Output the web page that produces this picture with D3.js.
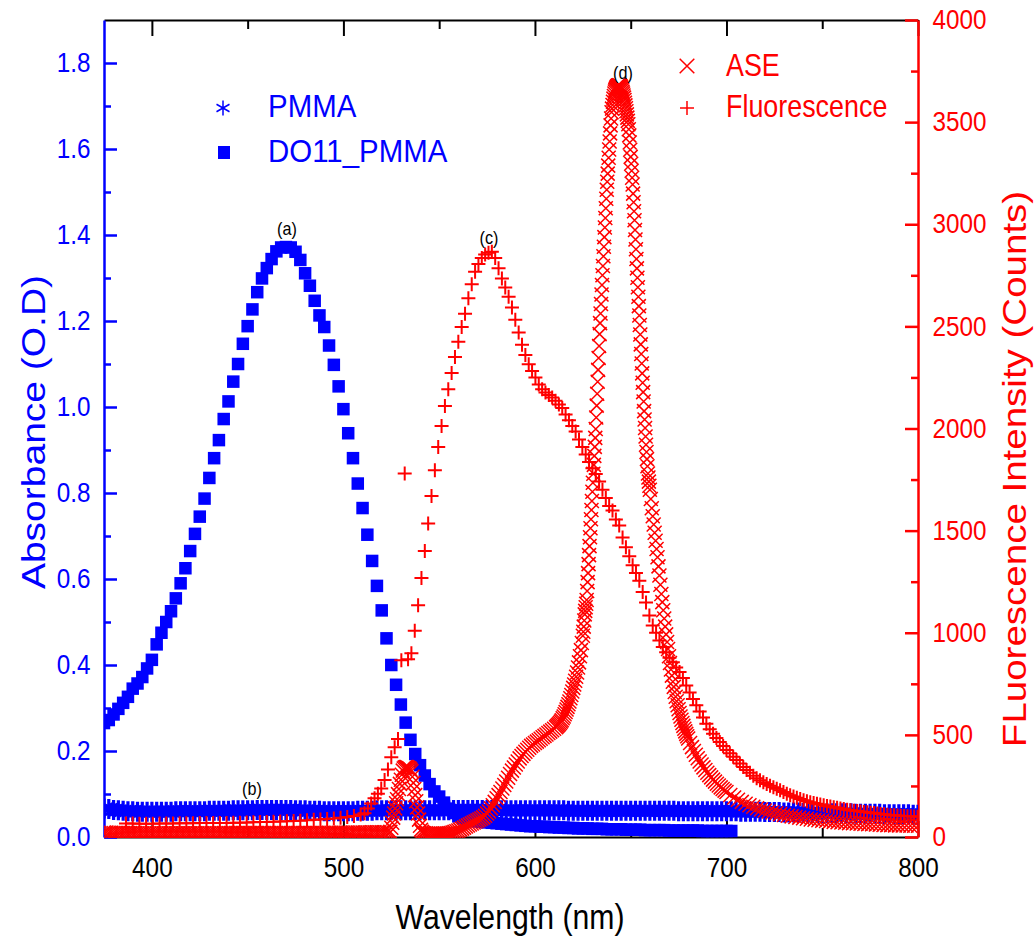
<!DOCTYPE html>
<html>
<head>
<meta charset="utf-8">
<script src="https://cdn.jsdelivr.net/npm/d3@7"></script>
<style>
  html, body { margin: 0; padding: 0; background: #fff; }
  svg text { font-family: "Liberation Sans", Arial, Helvetica, sans-serif; }
</style>
</head>
<body>
<div id="chart"></div>
<script>
// values (wavelength grid = start + i * step)

// DO11_PMMA absorbance (O.D), squares
const do11Start = 375, do11Step = 2.5;
const do11Abs = [
  0.265,0.272,0.285,0.298,0.312,0.326,0.345,0.357,0.372,0.392,
  0.412,0.448,0.475,0.500,0.525,0.555,0.590,0.625,0.665,0.705,
  0.745,0.787,0.835,0.881,0.923,0.972,1.013,1.059,1.100,1.147,
  1.188,1.227,1.267,1.299,1.323,1.344,1.362,1.371,1.372,1.371,
  1.361,1.342,1.311,1.282,1.247,1.213,1.186,1.143,1.098,1.048,
  0.995,0.939,0.881,0.822,0.765,0.703,0.642,0.584,0.527,0.462,
  0.400,0.354,0.308,0.266,0.226,0.193,0.167,0.143,0.123,0.106,
  0.094,0.080,0.066,0.056,0.048,0.043,0.040,0.038,0.036,0.035,
  0.034,0.033,0.032,0.031,0.030,0.029,0.028,0.027,0.026,0.025,
  0.025,0.024,0.024,0.023,0.023,0.022,0.022,0.021,0.021,0.020,
  0.020,0.020,0.019,0.019,0.019,0.018,0.018,0.018,0.018,0.017,
  0.017,0.017,0.017,0.016,0.016,0.016,0.016,0.016,0.015,0.015,
  0.015,0.015,0.015,0.015,0.015,0.014,0.014,0.014,0.014,0.014,
  0.014,0.014
];

// PMMA absorbance (O.D), asterisks
const pmmaStart = 375, pmmaStep = 2.5;
const pmmaAbs = [
  0.066,0.065,0.063,0.062,0.061,0.060,0.060,
  0.059,0.059,0.059,0.059,0.059,0.059,0.059,0.059,0.060,0.060,0.060,0.060,
  0.060,0.060,0.060,0.061,0.061,0.061,0.061,0.061,0.062,0.062,0.062,0.062,
  0.062,0.063,0.063,0.063,0.063,0.063,0.063,0.063,0.063,0.062,
  0.062,0.062,0.061,0.061,0.061,0.060,0.060,0.060,0.060,0.060,
  0.060,0.060,0.061,0.061,0.061,0.061,0.062,0.062,0.062,0.062,
  0.062,0.062,0.062,0.062,0.062,0.062,0.062,0.062,0.062,0.062,
  0.062,0.062,0.063,0.063,0.063,0.063,0.063,0.063,0.063,0.063,
  0.063,0.063,0.062,0.062,0.062,0.062,0.062,0.062,0.062,0.062,
  0.062,0.062,0.062,0.062,0.062,0.062,0.061,0.061,0.061,0.061,
  0.061,0.061,0.061,0.061,0.061,0.061,0.061,0.061,0.061,0.061,
  0.061,0.061,0.061,0.061,0.061,0.061,0.061,0.061,0.061,0.060,
  0.060,0.060,0.060,0.060,0.060,0.060,0.060,0.060,0.060,0.060,
  0.060,0.060,0.059,0.059,0.059,0.059,0.059,0.058,0.058,0.058,
  0.058,0.057,0.057,0.057,0.057,0.056,0.056,0.056,0.056,0.056,
  0.055,0.055,0.055,0.055,0.055,0.055,0.054,0.054,0.054,0.054,
  0.054,0.054,0.053,0.053,0.053,0.053,0.053,0.053,0.052,0.052
];

// ASE intensity (counts), x markers
const aseBaseStart = 375, aseBaseStep = 1.25;
const aseBase = [
  22,22,21,21,20,20,20,20,19,19,
  19,19,19,19,18,18,18,18,18,18,
  18,18,18,18,18,18,18,18,18,18,
  18,18,18,18,18,18,18,18,18,18,
  18,18,18,18,18,18,18,18,18,18,
  19,19,19,19,19,19,19,19,19,19,
  19,19,19,19,19,19,19,19,20,20,
  20,20,20,20,20,20,20,20,20,20,
  20,20,20,20,20,20,20,20,20,20,
  20,20,20,20,21,21,21,21,21,21,
  21,21,21,21,22,22,22,22,22,22,
  22,22,23,23,23,23,23,23,23
];
const aseSpikeStart = 524, aseSpikeStep = 0.5;
const aseSpike = [
  20,25,45,70,95,115,140,165,185,210,235,260,280,305,325,335,340,342,342,
  340,338,335,330,322,295,265,235,205,175,145,115,85,55,35,25,20,18
];
const aseRiseStart = 543, aseRiseStep = 1;
const aseRise = [
  18,17,17,17,16,16,16,16,16,16,17,17,18,
  20,22,25,28,32,36,41,46,51,56,61,66,71,76,81,86,91,96,104,115,
  125,140,155,172,190,205,220,237,255,272,290,308,325,340,355,370,385,397,407,417,427,437,446,453,460,
  467,474,481,488,495,502,509,516,523,530,537
];
const aseMidStart = 611.5, aseMidStep = 0.5;
const aseMid = [
  542,547,552,558,565,572,581,590,601,612,624,637,650,663,
  679,695,712,730,747,765,785,805,830,855,885,915,950,985
];
const asePeakStart = 625.25, asePeakStep = 0.25;
const asePeak = [
  1005,1030,1060,
  1090,1107,1125,1142, 1160,1204,1248,1292, 1336,1380,1424,1468, 1512,1556,1601,1645,
  1690,1734,1778,1822, 1866,1910,1954,1998, 2054,2112,2170,2229, 2287,2345,2404,2462,
  2516,2563,2610,2656, 2703,2750,2796,2843, 2890,2937,2984,3031, 3078,3125,3169,3208,
  3248,3287,3326,3366, 3405,3445,3484,3518, 3548,3566,3584,3600, 3615,3628,3640,3650,
  3658,3664,3669,3673, 3676,3678,3679,3680, 3680,3679,3677,3674, 3670,3664,3657,3649,
  3640,3630,3620,3608, 3595,3582,3568,3553, 3538,3522,3506,3490, 3465,3435,3400,3365,
  3330,3296,3262,3228, 3195,3150,3108,3064, 3020,2972,2925,2878, 2830,2784,2738,2692,
  2645,2599,2553,2507, 2460,2412,2365,2318, 2270,2224,2178,2132, 2085,2044,2002,1961,
  1920,1885,1850,1815, 1780,1760,1740,1720, 1700
];
const aseFallStart = 660.5, aseFallStep = 0.5;
const aseFall = [
  1655,1610,1570,1530,1490,1450,1410,1370,1325,1280,
  1235,1190,1150,1110,1070,1030,992,955,920,885,
  852,820,790,760,735,710,687,665,645,625,
  607,590,574,558,544,530,517,505,493,482
];
const aseTailStart = 681, aseTailStep = 1;
const aseTail = [
  460,440,421,403,386,370,355,341,328,315,
  303,292,281,271,261,252,243,235,227,220
];
const aseFarStart = 702, aseFarStep = 2;
const aseFar = [
  206,193,182,172,163,155,148,141,135,130,
  125,120,116,112,108,104,101,98,95,92,
  89,86,84,82,80,78,76,74,72,71,
  70,68,67,66,65,64,63,62,61,60,
  59,58,58,57,57,56,56,55,55,55
];

// Fluorescence intensity (counts), + markers
const fluorLowStart = 386.5, fluorLowStep = 3.5;
const fluorLow = [
  66,66,65,65,65,66,66,66,67,67,67,68,68,68,69,69,70,70,
  71,72,73,74,75,76,77,78,80,82,84,86,88,91,94,98,103,110
];
const fluorMainStart = 511, fluorMainStep = 1.75;
const fluorMain = [
  116,140,164,190,212,237,279,330,390,440,
  480,865,1780,870,900,1010,1135,1268,1400,1535,
  1670,1795,1910,2012,2110,2192,2272,2350,2425,2497,
  2562,2638,2706,2767,2805,2835,2852,2860,2865,2835,
  2785,2735,2690,2645,2592,2532,2470,2410,2360,2315,
  2282,2250,2215,2192,2176,2164,2152,2136,2118,2100,
  2068,2040,2012,1985,1946,1910,1873,1836,1805,1777,
  1740,1700,1660,1620,1598,1555,1525,1466,1418,1375,
  1330,1293,1255,1200,1148,1085,1035,1000,962,930,
  905,878,855,830,808,778,742,708,676,645,
  615,585,555,527,505,485,465,445,426,410,
  393,377,360,343,328,314,300,288,278,268,
  260,251,243,236,229,220,212,205,198,192,
  186,180,175,170,166,163,159,155,152,149,
  146,143,140,137,134,131,129,127,125,123,
  121,119,117,115,113,111,109,107,106,105,
  104,103,102,101,100,99
];

// axes
const xMajor = [400, 500, 600, 700, 800];
const xMinor = [450, 550, 650, 750];
const absMajor = [0, 0.2, 0.4, 0.6, 0.8, 1.0, 1.2, 1.4, 1.6, 1.8];
const absMinor = [0.1, 0.3, 0.5, 0.7, 0.9, 1.1, 1.3, 1.5, 1.7];
const cntMajor = [0, 500, 1000, 1500, 2000, 2500, 3000, 3500, 4000];
const cntMinor = [250, 750, 1250, 1750, 2250, 2750, 3250, 3750];

const BLUE = "#0000ff", RED = "#ff0000";
const W = 1036, H = 946;
const plotL = 104, plotR = 918, plotT = 20, plotB = 837;

const svg = d3.select("#chart").append("svg")
  .attr("width", W).attr("height", H)
  .style("display", "block");

const x = d3.scaleLinear().domain([375, 800]).range([plotL, plotR]);
const yAbs = d3.scaleLinear().domain([0, 1.9]).range([plotB, plotT]);
const yCnt = d3.scaleLinear().domain([0, 4000]).range([plotB, plotT]);

function seq(start, step, values) {
  return values.map((v, i) => ({ w: start + i * step, v: v }));
}

// text squeezed horizontally like the original export
function label(g, px, py, str, o) {
  const t = g.append("g")
    .attr("transform", `translate(${px},${py}) scale(${o.sx || 0.9},1)` + (o.rotate ? ` rotate(${o.rotate})` : ""))
    .append("text")
    .attr("font-size", o.size)
    .attr("fill", o.fill || "#000")
    .attr("text-anchor", o.anchor || "start")
    .text(str);
  if (o.baseline) t.attr("dominant-baseline", o.baseline);
  return t;
}

// ---- axes ----
function styleAxis(g, color, width) {
  g.select(".domain").attr("stroke", color).attr("stroke-width", width);
  g.selectAll(".tick line").attr("stroke", color).attr("stroke-width", width);
  g.selectAll(".tick text").attr("fill", color).attr("font-size", 27)
    .attr("font-family", '"Liberation Sans", Arial, sans-serif')
    .attr("transform", "scale(0.9,1)");
}

const gTop = svg.append("g").attr("transform", `translate(0,${plotT})`)
  .call(d3.axisTop(x).tickValues(xMajor).tickSize(-16).tickSizeOuter(0).tickFormat(""));
styleAxis(gTop, "#000", 2);
const gTopMinor = svg.append("g").attr("transform", `translate(0,${plotT})`)
  .call(d3.axisTop(x).tickValues(xMinor).tickSize(-9).tickFormat(""));
styleAxis(gTopMinor, "#000", 2);
gTopMinor.select(".domain").remove();

const gBottom = svg.append("g").attr("transform", `translate(0,${plotB})`)
  .call(d3.axisBottom(x).tickValues(xMajor).tickSize(-16).tickSizeOuter(0).tickPadding(21));
styleAxis(gBottom, "#000", 2);
const gBottomMinor = svg.append("g").attr("transform", `translate(0,${plotB})`)
  .call(d3.axisBottom(x).tickValues(xMinor).tickSize(-9).tickFormat(""));
styleAxis(gBottomMinor, "#000", 2);
gBottomMinor.select(".domain").remove();

const gLeft = svg.append("g").attr("transform", `translate(${plotL},0)`)
  .call(d3.axisLeft(yAbs).tickValues(absMajor).tickSize(-13).tickSizeOuter(0)
    .tickPadding(15).tickFormat(d3.format(".1f")));
styleAxis(gLeft, BLUE, 2.5);
const gLeftMinor = svg.append("g").attr("transform", `translate(${plotL},0)`)
  .call(d3.axisLeft(yAbs).tickValues(absMinor).tickSize(-7).tickFormat(""));
styleAxis(gLeftMinor, BLUE, 2.5);
gLeftMinor.select(".domain").remove();

const gRight = svg.append("g").attr("transform", `translate(${plotR},0)`)
  .call(d3.axisRight(yCnt).tickValues(cntMajor).tickSize(-13).tickSizeOuter(0)
    .tickPadding(16).tickFormat(d3.format("d")));
styleAxis(gRight, RED, 2.5);
const gRightMinor = svg.append("g").attr("transform", `translate(${plotR},0)`)
  .call(d3.axisRight(yCnt).tickValues(cntMinor).tickSize(-7).tickFormat(""));
styleAxis(gRightMinor, RED, 2.5);
gRightMinor.select(".domain").remove();

// axis titles
label(svg, 510, 929, "Wavelength (nm)", { size: 36, sx: 0.84, anchor: "middle" });
label(svg, 45, 432, "Absorbance (O.D)", { size: 39, sx: 0.84, anchor: "middle", fill: BLUE, rotate: -90 });
label(svg, 1026, 469, "FLuorescence Intensity (Counts)", { size: 38.5, sx: 0.84, anchor: "middle", fill: RED, rotate: -90 });

// ---- data ----
svg.append("clipPath").attr("id", "plotClip")
  .append("rect").attr("x", plotL).attr("y", plotT)
  .attr("width", plotR - plotL).attr("height", plotB - plotT + 1);
const plot = svg.append("g").attr("clip-path", "url(#plotClip)");

function asterisk(h) {
  const a = h * 0.866, b = h * 0.5;
  return `M0,${-h}V${h}M${-a},${-b}L${a},${b}M${a},${-b}L${-a},${b}`;
}
function cross(h) { return `M${-h},${-h}L${h},${h}M${h},${-h}L${-h},${h}`; }
function plus(h) { return `M${-h},0H${h}M0,${-h}V${h}`; }

const pmma = seq(pmmaStart, pmmaStep, pmmaAbs);
plot.append("g").selectAll("path").data(pmma).enter().append("path")
  .attr("d", asterisk(10))
  .attr("transform", d => `translate(${x(d.w)},${yAbs(d.v)})`)
  .attr("fill", "none").attr("stroke", BLUE).attr("stroke-width", 3.2);

const do11 = seq(do11Start, do11Step, do11Abs);
const sq = 12.5;
plot.append("g").selectAll("rect").data(do11).enter().append("rect")
  .attr("x", d => x(d.w) - sq / 2)
  .attr("y", d => yAbs(d.v) - sq / 2)
  .attr("width", sq).attr("height", sq)
  .attr("fill", BLUE);

const ase = [].concat(
  seq(aseBaseStart, aseBaseStep, aseBase),
  seq(aseSpikeStart, aseSpikeStep, aseSpike),
  seq(aseRiseStart, aseRiseStep, aseRise),
  seq(aseMidStart, aseMidStep, aseMid),
  seq(asePeakStart, asePeakStep, asePeak),
  seq(aseFallStart, aseFallStep, aseFall),
  seq(aseTailStart, aseTailStep, aseTail),
  seq(aseFarStart, aseFarStep, aseFar)
);
plot.append("g").selectAll("path").data(ase).enter().append("path")
  .attr("d", cross(7))
  .attr("transform", d => `translate(${x(d.w)},${yCnt(d.v)})`)
  .attr("fill", "none").attr("stroke", RED).attr("stroke-width", 1.5);

const fluor = [].concat(
  seq(fluorLowStart, fluorLowStep, fluorLow),
  seq(fluorMainStart, fluorMainStep, fluorMain)
);
plot.append("g").selectAll("path").data(fluor).enter().append("path")
  .attr("d", plus(7))
  .attr("transform", d => `translate(${x(d.w)},${yCnt(d.v)})`)
  .attr("fill", "none").attr("stroke", RED).attr("stroke-width", 2);

// peak annotations
label(svg, 287, 229, "(a)", { size: 18, anchor: "middle", baseline: "central" });
label(svg, 252, 789, "(b)", { size: 18, anchor: "middle", baseline: "central" });
label(svg, 489, 238, "(c)", { size: 18, anchor: "middle", baseline: "central" });
label(svg, 623, 73, "(d)", { size: 18, anchor: "middle", baseline: "central" });

// ---- legends ----
const leg = svg.append("g");
leg.append("path").attr("d", asterisk(7.5))
  .attr("transform", "translate(223,108)")
  .attr("fill", "none").attr("stroke", BLUE).attr("stroke-width", 1.5);
label(leg, 268, 117, "PMMA", { size: 32, sx: 0.92, fill: BLUE });
leg.append("rect").attr("x", 218).attr("y", 146).attr("width", 12).attr("height", 13).attr("fill", BLUE);
label(leg, 268, 162, "DO11_PMMA", { size: 32, sx: 0.92, fill: BLUE });

leg.append("path").attr("d", cross(7.3))
  .attr("transform", "translate(687,66)")
  .attr("fill", "none").attr("stroke", RED).attr("stroke-width", 1.5);
label(leg, 726, 76, "ASE", { size: 32, sx: 0.84, fill: RED });
leg.append("path").attr("d", plus(7))
  .attr("transform", "translate(687,108)")
  .attr("fill", "none").attr("stroke", RED).attr("stroke-width", 1.5);
label(leg, 726, 117, "Fluorescence", { size: 32, sx: 0.84, fill: RED });
</script>
</body>
</html>
